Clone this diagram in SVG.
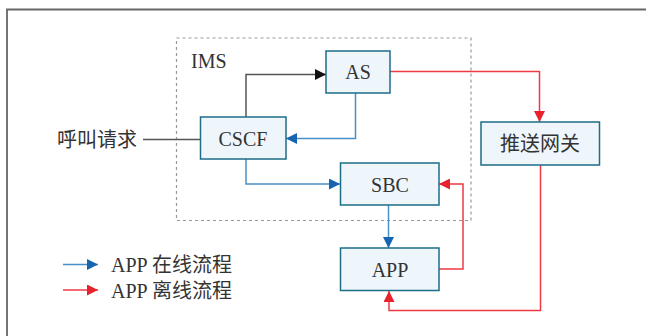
<svg xmlns="http://www.w3.org/2000/svg" width="646" height="336" viewBox="0 0 646 336">
<style>
.box{fill:#eef6fc;stroke:#1d6e87;stroke-width:1.5}
.t{font-family:"Liberation Serif","Noto Sans CJK SC",serif;font-size:20px;fill:#333;text-anchor:middle}
.tl{font-family:"Liberation Serif","Noto Sans CJK SC",serif;font-size:20px;fill:#333}
.blue{fill:none;stroke:#4a90c8;stroke-width:1.5}
.red{fill:none;stroke:#ee3a43;stroke-width:1.5}
.gray{fill:none;stroke:#555;stroke-width:1.5}
</style>
<defs>
<marker id="ab" viewBox="0 0 10 10" refX="10" refY="5" markerWidth="11" markerHeight="11" markerUnits="userSpaceOnUse" orient="auto"><path d="M0,0L10,5L0,10z" fill="#1565b0"/></marker>
<marker id="ar" viewBox="0 0 10 10" refX="10" refY="5" markerWidth="11" markerHeight="11" markerUnits="userSpaceOnUse" orient="auto"><path d="M0,0L10,5L0,10z" fill="#e8222c"/></marker>
<marker id="ak" viewBox="0 0 10 10" refX="10" refY="5" markerWidth="11" markerHeight="11" markerUnits="userSpaceOnUse" orient="auto"><path d="M0,0L10,5L0,10z" fill="#111"/></marker>
</defs>
<path d="M7,336V9.5H646" fill="none" stroke="#666" stroke-width="1.8"/>
<g id="ims">
<rect x="176.5" y="38" width="294.5" height="182.5" fill="none" stroke="#999" stroke-width="1.2" stroke-dasharray="3,3"/>
<text class="tl" x="191" y="68">IMS</text>
</g>
<g id="connectors">
<path class="gray" d="M143,139.5H200"/>
<path class="gray" d="M246,117V74.5H316"/>
<path d="M316,74.5H326" stroke="#111" stroke-width="1.5" marker-end="url(#ak)"/>
<path class="blue" d="M355.5,93V138.5H286" marker-end="url(#ab)"/>
<path class="blue" d="M246,159V184H340" marker-end="url(#ab)"/>
<path class="blue" d="M388.5,205V248" marker-end="url(#ab)"/>
<path class="red" d="M390,71.5H539.5V122" marker-end="url(#ar)"/>
<path class="red" d="M540.5,165V310.5H389V291" marker-end="url(#ar)"/>
<path class="red" d="M439,269H463V184H439" marker-end="url(#ar)"/>
<path class="blue" d="M63,264.5H98" marker-end="url(#ab)"/>
<path class="red" d="M63,290H98" marker-end="url(#ar)"/>
</g>
<g id="as"><rect class="box" x="326" y="51" width="64" height="42"/><text class="t" x="358" y="79">AS</text></g>
<g id="cscf"><rect class="box" x="200.5" y="117" width="85.5" height="42"/><text class="t" x="243" y="145.5">CSCF</text></g>
<g id="sbc"><rect class="box" x="340.5" y="163" width="98.5" height="42"/><text class="t" x="390" y="191.5">SBC</text></g>
<g id="app"><rect class="box" x="340.5" y="248" width="98.5" height="42.5"/><text class="t" x="390" y="276.5">APP</text></g>
<g id="gateway"><rect class="box" x="481" y="122" width="118.5" height="43"/><text class="t" x="540" y="151">推送网关</text></g>
<g id="call"><text class="tl" x="57" y="146.5">呼叫请求</text></g>
<g id="legend">
<text class="tl" x="111" y="272">APP 在线流程</text>
<text class="tl" x="111" y="298">APP 离线流程</text>
</g>
</svg>
